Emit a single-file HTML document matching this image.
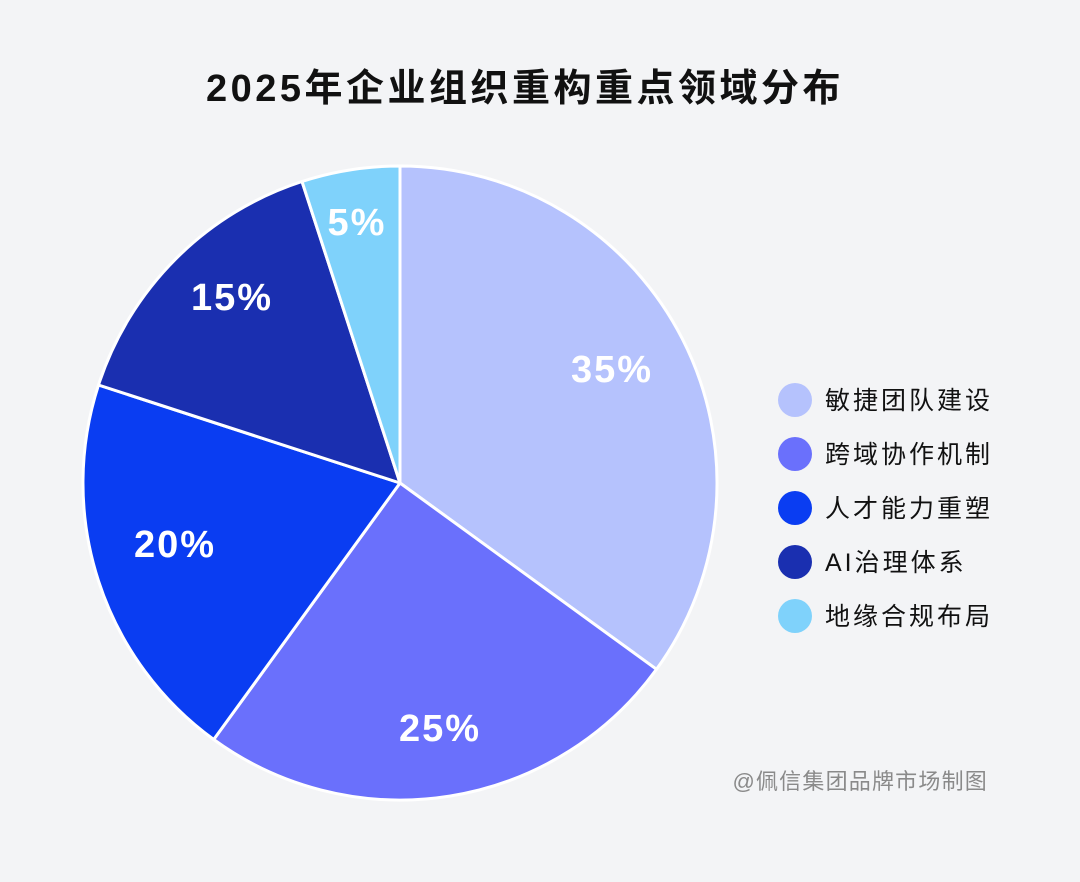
<!DOCTYPE html>
<html><head><meta charset="utf-8"><style>
html,body{margin:0;padding:0;background:#f3f4f6;}
body{width:1080px;height:877px;overflow:hidden;}
</style></head><body>
<svg width="1080" height="877" viewBox="0 0 1080 877" xmlns="http://www.w3.org/2000/svg" font-family="'Liberation Sans','Noto Sans CJK SC',sans-serif">
<rect width="1080" height="877" fill="#f3f4f6"/>
<text x="525" y="101" text-anchor="middle" font-size="38" font-weight="bold" fill="#111" letter-spacing="3.5">2025年企业组织重构重点领域分布</text>
<g stroke="#ffffff" stroke-width="3" stroke-linejoin="round">
<path d="M400,483 L400,166 A317,317 0 0 1 656.5,669.3 Z" fill="#b5c2fd"/>
<path d="M400,483 L656.5,669.3 A317,317 0 0 1 213.7,739.5 Z" fill="#6a70fc"/>
<path d="M400,483 L213.7,739.5 A317,317 0 0 1 98.5,385 Z" fill="#0a3df2"/>
<path d="M400,483 L98.5,385 A317,317 0 0 1 302,181.5 Z" fill="#1a2fb0"/>
<path d="M400,483 L302,181.5 A317,317 0 0 1 400,166 Z" fill="#7fd2fb"/>
</g>
<g fill="#fff" font-size="38" font-weight="bold" text-anchor="middle" letter-spacing="2">
<text x="612" y="382">35%</text>
<text x="440" y="741">25%</text>
<text x="175" y="557">20%</text>
<text x="232" y="310">15%</text>
<text x="357" y="235">5%</text>
</g>
<g font-size="25" fill="#111" letter-spacing="3">
<circle cx="795" cy="400" r="17" fill="#b5c2fd"/><text x="825" y="409">敏捷团队建设</text>
<circle cx="795" cy="454" r="17" fill="#6a70fc"/><text x="825" y="463">跨域协作机制</text>
<circle cx="795" cy="508" r="17" fill="#0a3df2"/><text x="825" y="517">人才能力重塑</text>
<circle cx="795" cy="562" r="17" fill="#1a2fb0"/><text x="825" y="571">AI治理体系</text>
<circle cx="795" cy="616" r="17" fill="#7fd2fb"/><text x="825" y="625">地缘合规布局</text>
</g>
<text x="988" y="789" text-anchor="end" font-size="22" fill="#8a8a8a" letter-spacing="1.2">@佩信集团品牌市场制图</text>
</svg>
</body></html>
